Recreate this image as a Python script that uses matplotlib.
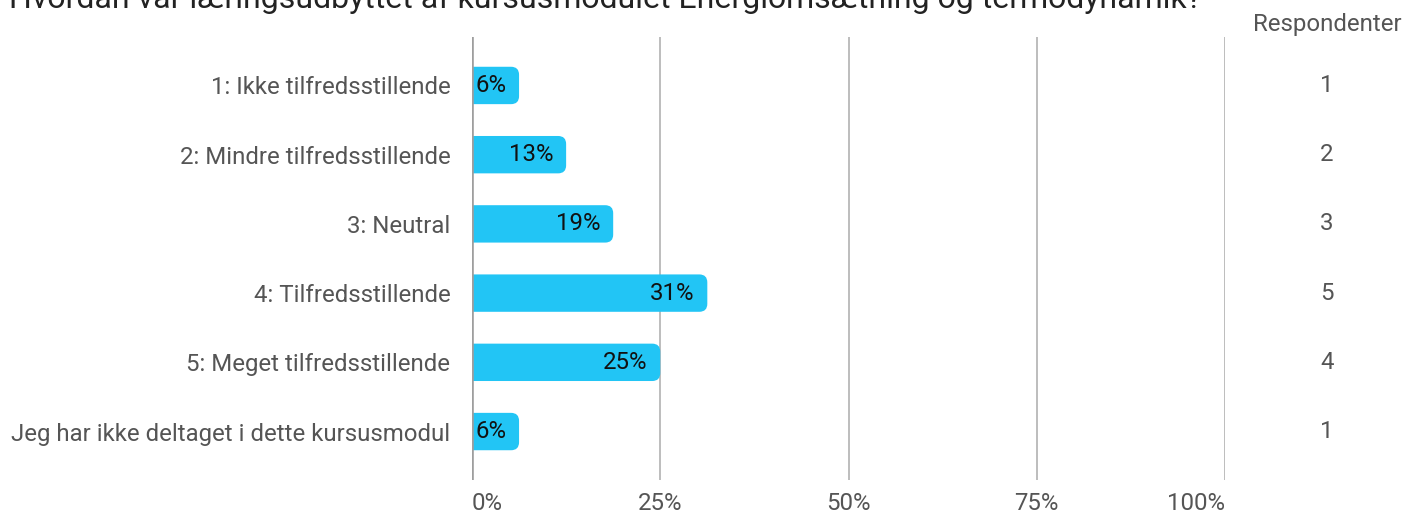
import matplotlib
matplotlib.use("Agg")
import matplotlib.pyplot as plt
from matplotlib.patches import FancyBboxPatch
from matplotlib.transforms import offset_copy

plt.rcParams['font.family'] = ['Roboto', 'DejaVu Sans']

title = "Hvordan var læringsudbyttet af kursusmodulet Energiomsætning og termodynamik?"
categories = ["1: Ikke tilfredsstillende", "2: Mindre tilfredsstillende", "3: Neutral",
              "4: Tilfredsstillende", "5: Meget tilfredsstillende",
              "Jeg har ikke deltaget i dette kursusmodul"]
counts = [1, 2, 3, 5, 4, 1]
total = sum(counts)
percents = [c / total * 100 for c in counts]
pct_labels = ["6%", "13%", "19%", "31%", "25%", "6%"]
xticks = [0, 25, 50, 75, 100]
xtick_labels = ["0%", "25%", "50%", "75%", "100%"]

W, H = 1404, 515
FS = 17.3
fig = plt.figure(figsize=(W / 100, H / 100), dpi=100)
ax = fig.add_axes([472 / W, 1 - 480 / H, (1225 - 472) / W, (480 - 37) / H])
ax.set_xlim(0, 100)
ax.set_ylim(5.7, -0.7)

bar_color = "#22C5F5"
h = 0.54
px_per_x = (1225 - 472) / 100
px_per_y = (480 - 37) / 6.4
r_px = 8
r_x = r_px / px_per_x
aspect = (r_px / px_per_y) / r_x

for i, v in enumerate(percents):
    start = -2 * r_x
    p = FancyBboxPatch((start, i - h / 2), v - start, h,
                       boxstyle=f"round,pad=0,rounding_size={r_x}",
                       mutation_aspect=aspect, facecolor=bar_color,
                       edgecolor="none", zorder=3)
    ax.add_patch(p)
    p.set_clip_box(ax.bbox)

for x in xticks[1:]:
    ax.axvline(x, color="#ABABAB", lw=1.1, zorder=1)
ax.axvline(0, color="#9E9E9E", lw=2.6, zorder=4)

for s in ax.spines.values():
    s.set_visible(False)
ax.set_yticks(range(len(categories)))
ax.set_yticklabels(categories, fontsize=FS, color="#555555")
ax.tick_params(axis='y', length=0, pad=15.5)
ax.set_xticks(xticks)
ax.set_xticklabels(xtick_labels, fontsize=FS, color="#555555")
ax.tick_params(axis='x', length=0, pad=9)
lbls = ax.get_xticklabels()
lbls[0].set_horizontalalignment('left')
lbls[-1].set_horizontalalignment('right')

for i, (v, lab) in enumerate(zip(percents, pct_labels)):
    tr = offset_copy(ax.transData, fig=fig, x=-13, y=0, units='dots')
    ax.text(v, i, lab, transform=tr, ha='right', va='center', fontsize=FS,
            color="#111111", zorder=5)

# respondents column
col_x = 1327 / W
fig.text(col_x, 1 - 25 / H, "Respondenter", ha='center', va='center',
         fontsize=FS, color="#555555")
for i, c in enumerate(counts):
    y_fig = ax.transData.transform((0, i))[1] / H
    fig.text(col_x, y_fig, str(c), ha='center', va='center', fontsize=FS,
             color="#555555")

fig.text(9 / W, 1 - 8 / H, title, ha='left', va='baseline', fontsize=23,
         color="#222222")

fig.savefig("out.png", dpi=100)
